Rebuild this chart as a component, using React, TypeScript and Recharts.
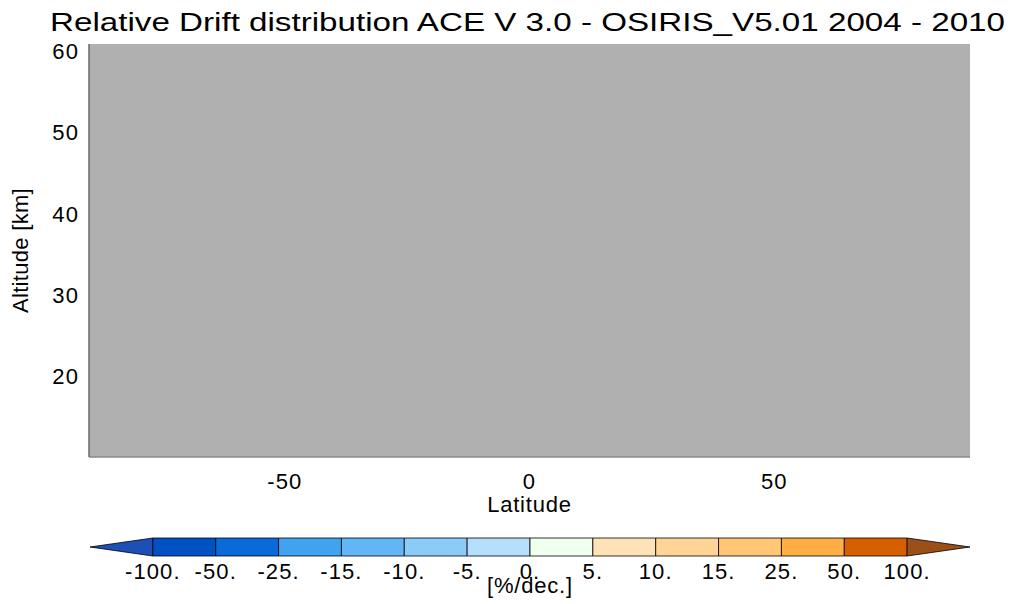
import {
  ComposedChart, Scatter, XAxis, YAxis, ReferenceArea,
  BarChart, Bar
} from "recharts";

const titleText = "Relative Drift distribution ACE V 3.0 - OSIRIS_V5.01 2004 - 2010";

// axis ranges of the (empty) drift field
const latitudeRange = [-90, 90];
const altitudeRange = [9.2, 60];
const latitudeTicks = [-50, 0, 50];
const altitudeTicks = [20, 30, 40, 50, 60];

// colour bar levels [%/dec.] and fills (first/last are the end arrows)
const driftLevels = ["-100.", "-50.", "-25.", "-15.", "-10.", "-5.", "0.", "5.", "10.", "15.", "25.", "50.", "100."];
const driftColors = [
  "#1d4fb6", "#0052c4", "#0a6ad9", "#3fa3f0", "#62b6f5", "#8ccaf8", "#b6dffb",
  "#effff0", "#ffe2b8", "#ffd497", "#ffc676", "#ffae46", "#d66000", "#9c4f18",
];

const FONT = "'Liberation Sans', Arial, sans-serif";

const cbRow = [
  driftColors.reduce((acc, _c, i) => ({ ...acc, [`s${i}`]: 1 }), { name: "cb" } as Record<string, any>),
];

function YTick({ x, y, payload }: any) {
  return (
    <text x={x - 8} y={y + 15} textAnchor="end" fontFamily={FONT} fontSize={22} letterSpacing={1.1} fill="#000">
      {payload.value}
    </text>
  );
}

function XTick({ x, y, payload }: any) {
  return (
    <text x={x} y={y + 30} textAnchor="middle" fontFamily={FONT} fontSize={22} letterSpacing={1.1} fill="#000">
      {payload.value}
    </text>
  );
}

function CbTick({ x, y, payload }: any) {
  return (
    <text x={x} y={y + 21} textAnchor="middle" fontFamily={FONT} fontSize={22} letterSpacing={1.1} fill="#000">
      {driftLevels[payload.value - 1]}
    </text>
  );
}

function arrowShape(dir: "left" | "right") {
  return (props: any) => {
    const { x, y, width, height, fill } = props;
    const pts = dir === "left"
      ? `${x + width},${y} ${x},${y + height / 2} ${x + width},${y + height}`
      : `${x},${y} ${x + width},${y + height / 2} ${x},${y + height}`;
    return <polygon points={pts} fill={fill} stroke="#000" strokeWidth={0.8} />;
  };
}

export default function App() {
  const labelStyle = { fontFamily: FONT, fontSize: 22, letterSpacing: 0.8, fill: "#000" };
  return (
    <div style={{ position: "absolute", left: 0, top: 0, width: 1022, height: 604, background: "#fff" }}>
      <svg width={1022} height={44} style={{ position: "absolute", left: 0, top: 0 }}>
        <text x={50} y={31} fontFamily={FONT} fontSize={26} textLength={955} lengthAdjust="spacingAndGlyphs" fill="#000">
          {titleText}
        </text>
      </svg>

      <div style={{ position: "absolute", left: 0, top: 0 }}>
        <ComposedChart width={1022} height={530} margin={{ top: 44, right: 52, bottom: 13, left: 9 }}>
          <XAxis
            type="number"
            dataKey="lat"
            domain={latitudeRange}
            ticks={latitudeTicks}
            allowDataOverflow
            height={60}
            tick={<XTick />}
            tickLine={false}
            tickSize={0}
            axisLine={{ stroke: "#8a8a8a", strokeWidth: 1.5 }}
            label={{ value: "Latitude", position: "insideBottom", offset: 5, style: labelStyle }}
          />
          <YAxis
            type="number"
            dataKey="alt"
            domain={altitudeRange}
            ticks={altitudeTicks}
            allowDataOverflow
            width={80}
            tick={<YTick />}
            tickLine={false}
            tickSize={0}
            axisLine={{ stroke: "#6a6a6a", strokeWidth: 1.5 }}
            label={{
              value: "Altitude [km]", angle: -90, position: "insideLeft", offset: 11,
              style: { ...labelStyle, textAnchor: "middle", letterSpacing: 0.3 },
            }}
          />
          <ReferenceArea
            x1={latitudeRange[0]} x2={latitudeRange[1]}
            y1={altitudeRange[0]} y2={altitudeRange[1]}
            fill="#b0b0b0" fillOpacity={1} stroke="none"
          />
          <Scatter name="drift" data={[]} fill="#000" isAnimationActive={false} />
        </ComposedChart>
      </div>

      <div style={{ position: "absolute", left: 0, top: 520 }}>
        <BarChart
          width={1022} height={84} data={cbRow} layout="vertical"
          barCategoryGap={0}
          margin={{ top: 18, right: 52, bottom: 6, left: 90 }}
        >
          <XAxis
            type="number"
            domain={[0, driftColors.length]}
            ticks={driftLevels.map((_l, i) => i + 1)}
            height={42}
            axisLine={false}
            tickLine={false}
            tickSize={0}
            tick={<CbTick />}
            label={{ value: "[%/dec.]", position: "insideBottom", offset: 5, style: labelStyle }}
          />
          <YAxis type="category" dataKey="name" hide />
          {driftColors.map((c, i) => (
            <Bar
              key={i}
              dataKey={`s${i}`}
              stackId="cb"
              fill={c}
              stroke="#000"
              strokeWidth={0.8}
              isAnimationActive={false}
              shape={i === 0 ? arrowShape("left") : i === driftColors.length - 1 ? arrowShape("right") : undefined}
            />
          ))}
        </BarChart>
      </div>
    </div>
  );
}
